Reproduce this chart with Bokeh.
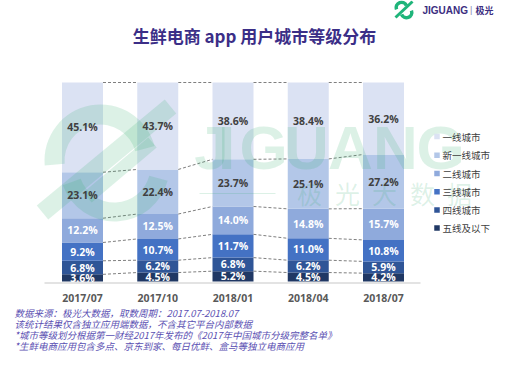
import numpy as np
from bokeh.plotting import figure
from bokeh.models import Range1d
from bokeh.core.properties import value
from bokeh.embed import file_html
from bokeh.resources import INLINE

# ---------------- data ----------------
periods = ["2017/07", "2017/10", "2018/01", "2018/04", "2018/07"]
# series, bottom to top
tier5_below = [3.6, 4.5, 5.2, 4.5, 4.2]      # 五线及以下
tier4 = [6.8, 6.2, 6.8, 6.2, 5.9]            # 四线城市
tier3 = [9.2, 10.7, 11.7, 11.0, 10.8]        # 三线城市
tier2 = [12.2, 12.5, 14.0, 14.8, 15.7]       # 二线城市
new_tier1 = [23.1, 22.4, 23.7, 25.1, 27.2]   # 新一线城市
tier1 = [45.1, 43.7, 38.6, 38.4, 36.2]       # 一线城市
series_names = ["五线及以下", "四线城市", "三线城市", "二线城市", "新一线城市", "一线城市"]
series_values = [tier5_below, tier4, tier3, tier2, new_tier1, tier1]
series_colors = ["#203864", "#2f5597", "#4472c4", "#8faadc", "#b3c7e8", "#dbe2f3"]
label_colors = ["white", "white", "white", "white", "#404040", "#404040"]
legend_order = ["一线城市", "新一线城市", "二线城市", "三线城市", "四线城市", "五线及以下"]

title_text = "生鲜电商 app 用户城市等级分布"
notes = [
    "数据来源：极光大数据，取数周期：2017.07-2018.07",
    "该统计结果仅含独立应用端数据，不含其它平台内部数据",
    "*城市等级划分根据第一财经2017年发布的《2017年中国城市分级完整名单》",
    "*生鲜电商应用包含多点、京东到家、每日优鲜、盒马等独立电商应用",
]
wm_letters = list("JIGUANG")
wm_cjk = list("极光大数据")

# ---------------- layout helpers (page pixels -> data) ----------------
W, H, OFF = 506, 353, 8
STEP = 75.25
def px(x):
    return (x - 90.0) / STEP
def py(y):
    return (289.0 - y) / 1.99

p = figure(width=W, height=H,
           x_range=Range1d(px(OFF), px(OFF + W)),
           y_range=Range1d(py(OFF + H), py(OFF)),
           output_backend="svg", toolbar_location=None,
           x_axis_location=None, y_axis_location=None,
           min_border=0, background_fill_color="white",
           border_fill_color="white")
p.grid.visible = False
p.outline_line_color = None

xs = np.arange(len(periods))
bw = 41.0 / STEP

# ---------------- stacked bars ----------------
bottom = np.zeros(len(periods))
bounds = []
for vals, col in zip(series_values, series_colors):
    v = np.array(vals)
    top = bottom + v
    p.vbar(x=xs, bottom=bottom, top=top, width=bw, fill_color=col, line_color=None)
    bounds.append((bottom.copy(), top.copy()))
    bottom = top

# dashed connectors between bar tops
for _, top in bounds:
    p.segment(x0=xs[:-1] + bw / 2, y0=top[:-1], x1=xs[1:] - bw / 2, y1=top[1:],
              line_color="#7f7f7f", line_width=1, line_dash="3 2")

# ---------------- watermark ----------------
wm_col = "#2eaa6a"
wm_a = 0.17
p.annular_wedge(x=[px(108)], y=[py(168)], inner_radius=36, outer_radius=56,
                inner_radius_units="screen", outer_radius_units="screen",
                start_angle=np.deg2rad(15), end_angle=np.deg2rad(185),
                fill_color=wm_col, fill_alpha=wm_a, line_color=None)
p.annular_wedge(x=[px(122)], y=[py(174)], inner_radius=36, outer_radius=55,
                inner_radius_units="screen", outer_radius_units="screen",
                start_angle=np.deg2rad(200), end_angle=np.deg2rad(345),
                fill_color=wm_col, fill_alpha=wm_a, line_color=None)
p.line(x=[px(50), px(178)], y=[py(220), py(114)], line_width=18,
       line_color=wm_col, line_alpha=wm_a, line_cap="butt")
p.line(x=[px(95), px(160)], y=[py(205), py(150)], line_width=13,
       line_color=wm_col, line_alpha=wm_a, line_cap="butt")
p.text(x=[px(c) for c in [219, 234, 271, 314, 358, 403, 448]], y=[py(155)] * 7,
       text=wm_letters, text_font=value("Liberation Sans"), text_font_style="bold",
       text_font_size="62px", text_align="center", text_baseline="middle",
       text_color=wm_col, text_alpha=wm_a)
p.text(x=[px(c) for c in [317, 355, 392, 430, 467]], y=[py(200)] * 5,
       text=wm_cjk, text_font=value("Noto Sans CJK SC"),
       text_font_size="25px", text_align="center", text_baseline="middle",
       text_color=wm_col, text_alpha=wm_a)
p.segment(x0=[px(207)], y0=[py(201)], x1=[px(283)], y1=[py(201)],
          line_color=wm_col, line_alpha=wm_a, line_width=1)

# ---------------- value labels ----------------
for (b, t), vals, lc in zip(bounds, series_values, label_colors):
    p.text(x=xs, y=(b + t) / 2, text=[f"{v:.1f}%" for v in vals],
           text_font=value("Open Sans"), text_font_style="bold",
           text_font_size="10.5px", text_align="center", text_baseline="middle",
           text_color=lc)

# baseline
p.segment(x0=[px(52)], y0=[py(290.5)], x1=[px(428)], y1=[py(290.5)],
          line_color="#e3e3e3", line_width=2)

# category labels
p.text(x=xs, y=[py(305)] * len(periods), text=periods,
       text_font=value("Open Sans"), text_font_style="bold",
       text_font_size="10.5px", text_align="center", text_baseline="middle",
       text_color="#595959")

# ---------------- legend ----------------
leg_y = [144, 162.7, 181, 199.3, 217.5, 235.5]
leg_cols = [series_colors[series_names.index(n)] for n in legend_order]
p.scatter(x=[px(444.5)] * 6, y=[py(v) for v in leg_y], marker="square", size=5.5,
          fill_color=leg_cols, line_color=None)
p.text(x=[px(450)] * 6, y=[py(v) for v in leg_y], text=legend_order,
       text_font=value("Noto Sans CJK SC"), text_font_size="9.5px",
       text_align="left", text_baseline="middle", text_color="#404040")

# ---------------- title ----------------
p.text(x=[px(262)], y=[py(43)], text=[title_text],
       text_font=value("Noto Sans CJK SC"), text_font_style="bold",
       text_font_size="17px", text_align="center", text_baseline="middle",
       text_color="#3b2e87")

# ---------------- logo (top right) ----------------
logo_green = "#1fb47a"
p.annular_wedge(x=[px(409)], y=[py(15)], inner_radius=3.5, outer_radius=7,
                inner_radius_units="screen", outer_radius_units="screen",
                start_angle=np.deg2rad(20), end_angle=np.deg2rad(200),
                fill_color=logo_green, line_color=None)
p.annular_wedge(x=[px(414)], y=[py(20)], inner_radius=3.5, outer_radius=7,
                inner_radius_units="screen", outer_radius_units="screen",
                start_angle=np.deg2rad(200), end_angle=np.deg2rad(380),
                fill_color=logo_green, line_color=None)
p.line(x=[px(403), px(420)], y=[py(25), py(9)], line_width=3,
       line_color=logo_green, line_cap="butt")
p.text(x=[px(430)], y=[py(17.5)], text=["JIGUANG"],
       text_font=value("Liberation Sans"), text_font_style="bold",
       text_font_size="10px", text_align="left", text_baseline="middle",
       text_color="#3b2e7f")
p.text(x=[px(477.5)], y=[py(17.5)], text=["|"],
       text_font=value("Liberation Sans"), text_font_size="9px",
       text_align="left", text_baseline="middle", text_color="#8a85b0")
p.text(x=[px(483)], y=[py(17.5)], text=["极光"],
       text_font=value("Noto Sans CJK SC"), text_font_style="bold",
       text_font_size="9px", text_align="left", text_baseline="middle",
       text_color="#3b2e7f")

# ---------------- footnotes ----------------
note_y = [320.5, 331.5, 342.5, 353.5]
p.text(x=[px(22)] * len(notes), y=[py(v) for v in note_y], text=notes,
       text_font=value("Noto Sans CJK SC"), text_font_style="italic",
       text_font_size="9.5px", text_align="left", text_baseline="middle",
       text_color="#5a4fb2")

open("out.html", "w").write(file_html(p, INLINE))
